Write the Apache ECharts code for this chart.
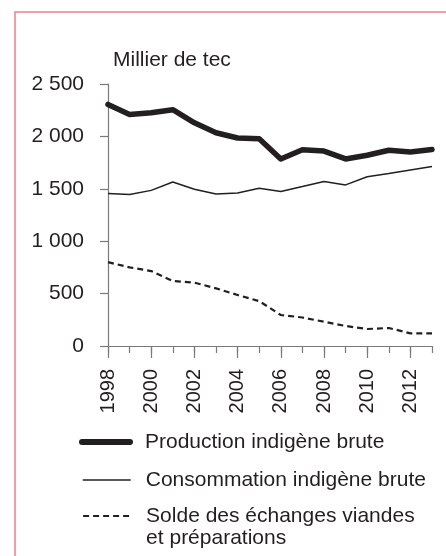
<!DOCTYPE html>
<html>
<head>
<meta charset="utf-8">
<script src="https://cdn.jsdelivr.net/npm/echarts@6/dist/echarts.min.js"></script>
<style>
  html, body { margin: 0; padding: 0; background: #fff; }
  #chart { width: 446px; height: 556px; }
</style>
</head>
<body>
<div id="chart"></div>
<script>
const years = [1998, 1999, 2000, 2001, 2002, 2003, 2004, 2005, 2006, 2007, 2008, 2009, 2010, 2011, 2012, 2013]
const tickYears = [1998, 2000, 2002, 2004, 2006, 2008, 2010, 2012]
const production = [2305, 2210, 2225, 2255, 2130, 2035, 1985, 1978, 1785, 1872, 1860, 1785, 1820, 1868, 1852, 1875]
const consommation = [1455, 1445, 1485, 1565, 1495, 1450, 1460, 1505, 1475, 1522, 1570, 1537, 1615, 1645, 1680, 1712]
const solde = [800, 750, 715, 620, 605, 550, 487, 428, 296, 272, 232, 191, 162, 172, 121, 120]
const names = ['Production indigène brute', 'Consommation indigène brute', 'Solde des échanges viandes\net préparations']

const font = 'Liberation Sans, Arial, sans-serif'
const ink = '#231f20'
const axisGrey = '#7a7a7a'

const pairs = (vals) => years.map((y, i) => [y, vals[i]])

const chart = echarts.init(document.getElementById('chart'))

// legend: line only, hide the default circle symbol
const legendBase = {
  orient: 'vertical',
  left: 82,
  padding: 0,
  itemWidth: 48,
  itemHeight: 20,
  selectedMode: false,
  itemStyle: { color: 'rgba(0,0,0,0)', borderColor: 'rgba(0,0,0,0)', borderWidth: 0, opacity: 0 }
}
const legendText = { fontFamily: font, fontSize: 21, color: ink, lineHeight: 22, padding: [0, 0, 0, 10] }

const option = {
  animation: false,
  graphic: [
    {
      type: 'rect',
      shape: { x: 15, y: 12, width: 480, height: 600 },
      style: { fill: 'none', stroke: '#ef7d8d', lineWidth: 1.5 },
      silent: true
    }
  ],
  title: {
    text: 'Millier de tec',
    left: 113,
    top: 50,
    padding: 0,
    textStyle: { fontFamily: font, fontSize: 21, fontWeight: 'normal', color: ink }
  },
  legend: [
    Object.assign({}, legendBase, {
      left: 79,
      top: 431,
      data: [names[0]],
      textStyle: legendText,
      lineStyle: { color: ink, width: 6, cap: 'round', type: 'solid' }
    }),
    Object.assign({}, legendBase, {
      top: 469,
      data: [names[1]],
      textStyle: legendText,
      lineStyle: { color: ink, width: 1.5, type: 'solid' }
    }),
    Object.assign({}, legendBase, {
      top: 483,
      data: [names[2]],
      // empty first line keeps the first text line level with the icon
      formatter: (n) => '\n' + n,
      textStyle: legendText,
      lineStyle: { color: ink, width: 2.2, type: [6, 4] }
    })
  ],
  grid: {
    left: 108,
    right: 14,
    top: 84,
    bottom: 210,
    containLabel: false
  },
  xAxis: [
    {
      type: 'value',
      position: 'bottom',
      min: 1998,
      max: 2013,
      interval: 1,
      axisLine: { show: true, lineStyle: { color: axisGrey, width: 1.2 } },
      axisTick: { show: true, length: 7, lineStyle: { color: axisGrey, width: 1.2 } },
      axisLabel: { show: false },
      splitLine: { show: false }
    },
    {
      type: 'value',
      position: 'bottom',
      min: 1998,
      max: 2013,
      interval: 2,
      axisLine: { show: false },
      axisTick: { show: true, length: 12, customValues: tickYears, lineStyle: { color: axisGrey, width: 1.2 } },
      axisLabel: {
        show: true,
        customValues: tickYears,
        rotate: 90,
        margin: 23,
        fontFamily: font,
        fontSize: 20,
        color: ink,
        formatter: (v) => String(v)
      },
      splitLine: { show: false }
    }
  ],
  yAxis: {
    type: 'value',
    min: 0,
    max: 2500,
    interval: 500,
    axisLine: { show: true, lineStyle: { color: axisGrey, width: 1.2 } },
    axisTick: { show: true, length: 8, lineStyle: { color: axisGrey, width: 1.2 } },
    axisLabel: {
      margin: 24,
      fontFamily: font,
      fontSize: 21,
      color: ink,
      formatter: (v) => String(v).replace(/\B(?=(\d{3})+(?!\d))/g, ' ')
    },
    splitLine: { show: false }
  },
  series: [
    {
      name: names[0],
      type: 'line',
      xAxisIndex: 0,
      data: pairs(production),
      symbol: 'none',
      itemStyle: { color: ink },
      lineStyle: { color: ink, width: 5.5, cap: 'round', join: 'round' }
    },
    {
      name: names[1],
      type: 'line',
      xAxisIndex: 0,
      data: pairs(consommation),
      symbol: 'none',
      itemStyle: { color: ink },
      lineStyle: { color: ink, width: 1.5 }
    },
    {
      name: names[2],
      type: 'line',
      xAxisIndex: 0,
      data: pairs(solde),
      symbol: 'none',
      itemStyle: { color: ink },
      lineStyle: { color: ink, width: 2.2, type: [6, 4] }
    }
  ]
}

chart.setOption(option)
</script>
</body>
</html>
